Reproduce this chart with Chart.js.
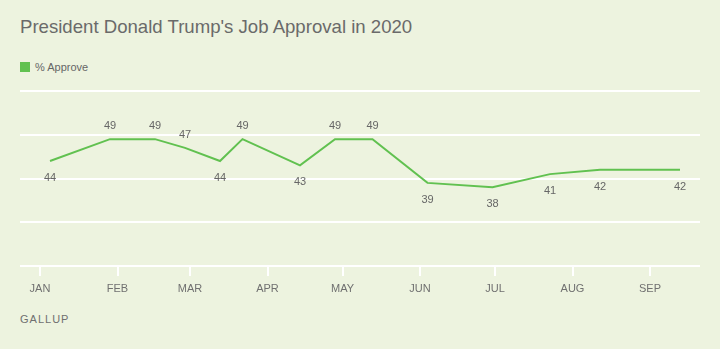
<!DOCTYPE html>
<html>
<head>
<meta charset="utf-8">
<script src="https://cdn.jsdelivr.net/npm/chart.js@4.4.1/dist/chart.umd.min.js"></script>
<style>
  html, body { margin: 0; padding: 0; }
  body { width: 720px; height: 349px; background: #edf3df; position: relative; overflow: hidden;
         font-family: "Liberation Sans", Arial, sans-serif; color: #666; }
  #title { position: absolute; left: 20px; top: 16px; font-size: 18.6px; color: #6a6a6a; white-space: nowrap; }
  #legend { position: absolute; left: 20px; top: 61px; font-size: 11px; color: #666; }
  #legend span.box { display: inline-block; width: 10px; height: 10px; background: #61c150; vertical-align: -1px; margin-right: 5px; }
  #source { position: absolute; left: 20px; top: 313px; font-size: 11px; letter-spacing: 1px; color: #6f6f6f; }
  #wrap { position: absolute; left: 0; top: 0; width: 720px; height: 349px; }
</style>
</head>
<body>
<div id="title">President Donald Trump's Job Approval in 2020</div>
<div id="legend"><span class="box"></span>% Approve</div>
<div id="source">GALLUP</div>
<div id="wrap"><canvas id="myChart" width="720" height="349"></canvas></div>
<script>
// Даты опросов и значения
const pollDates = ['2020-01-05', '2020-01-29', '2020-02-16', '2020-02-28', '2020-03-13', '2020-03-22',
                   '2020-04-14', '2020-04-28', '2020-05-13', '2020-06-04', '2020-06-30', '2020-07-23',
                   '2020-08-12', '2020-09-13'];
const approve = [44, 49, 49, 47, 44, 49, 43, 49, 49, 39, 38, 41, 42, 42];
const monthLabels = ['JAN', 'FEB', 'MAR', 'APR', 'MAY', 'JUN', 'JUL', 'AUG', 'SEP'];
const monthStarts = ['2020-01-01', '2020-02-01', '2020-03-01', '2020-04-01', '2020-05-01',
                     '2020-06-01', '2020-07-01', '2020-08-01', '2020-09-01'];

const green = '#61c150';
const grey = '#666';

function dayOfYear(s) {
    return (Date.parse(s + 'T00:00:00Z') - Date.parse('2020-01-01T00:00:00Z')) / 86400000;
}
const monthDays = monthStarts.map(dayOfYear);

// Подписи значений над/под точками
const valueLabels = {
    id: 'valueLabels',
    afterDatasetsDraw(chart) {
        const ctx = chart.ctx;
        const meta = chart.getDatasetMeta(0);
        ctx.save();
        ctx.font = '11px "Liberation Sans", Arial, sans-serif';
        ctx.fillStyle = grey;
        ctx.textAlign = 'center';
        ctx.textBaseline = 'middle';
        meta.data.forEach((pt, i) => {
            const v = approve[i];
            const dy = v >= 45 ? -13 : 17;
            ctx.fillText(String(v), pt.x, pt.y + dy);
        });
        ctx.restore();
    }
};

chart = new Chart(document.getElementById('myChart').getContext('2d'), {
    type: 'line',
    data: {
        datasets: [{
            label: '% Approve',
            data: pollDates.map((d, i) => ({ x: dayOfYear(d), y: approve[i] })),
            borderColor: green,
            backgroundColor: green,
            borderWidth: 2,
            pointRadius: 0,
            tension: 0,
            clip: false
        }]
    },
    options: {
        responsive: false,
        animation: false,
        layout: { padding: { top: 91, left: 20, right: 20, bottom: 0 } },
        plugins: { legend: { display: false }, tooltip: { enabled: false } },
        scales: {
            x: {
                type: 'linear',
                min: -8,
                max: 264,
                afterBuildTicks: scale => { scale.ticks = monthDays.map(v => ({ value: v })); },
                afterFit: scale => { scale.height = 83; },
                grid: { drawOnChartArea: false, drawTicks: true, tickLength: 10, color: '#ffffff', lineWidth: 2 },
                border: { display: false },
                ticks: {
                    autoSkip: false,
                    maxRotation: 0,
                    padding: 6,
                    color: '#707070',
                    font: { family: '"Liberation Sans", Arial, sans-serif', size: 11 },
                    callback: (val, idx) => monthLabels[idx]
                }
            },
            y: {
                min: 20,
                max: 60,
                afterFit: scale => { scale.width = 0; },
                ticks: { display: false, stepSize: 10 },
                grid: { color: '#ffffff', lineWidth: 2, drawTicks: false },
                border: { display: false }
            }
        }
    },
    plugins: [valueLabels]
});
</script>
</body>
</html>
